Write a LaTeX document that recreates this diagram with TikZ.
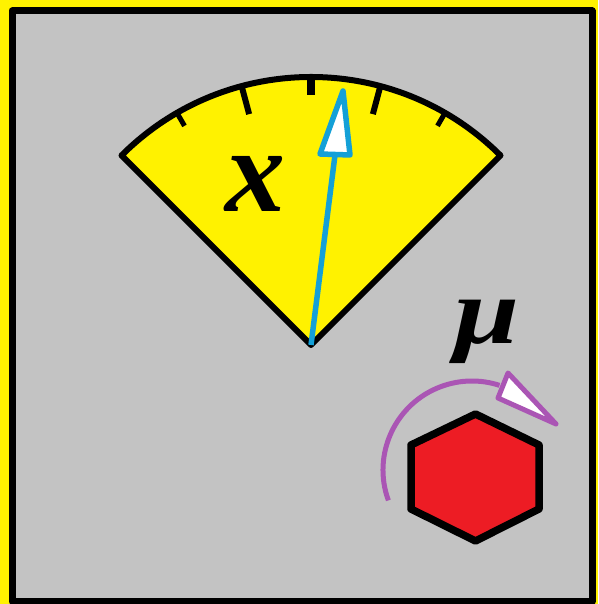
\documentclass[tikz,border=0pt]{standalone}
\usepackage{fontspec}
\setmainfont{Liberation Serif}
\definecolor{pyellow}{RGB}{255,242,0}
\definecolor{pgray}{RGB}{195,195,195}
\definecolor{pred}{RGB}{237,28,36}
\definecolor{pblue}{RGB}{20,160,215}
\definecolor{ppurple}{RGB}{170,85,180}
\tikzset{
  outline/.style={draw=black, line join=round},
  needle/.style={draw=pblue, line width=5.5pt, line join=round},
  spin/.style={draw=ppurple, line width=5pt, line join=round},
  bigletter/.style={inner sep=0pt, anchor=base, font=\fontsize{120}{120}\selectfont\bfseries\itshape},
  midletter/.style={inner sep=0pt, anchor=base, font=\fontsize{90}{90}\selectfont\bfseries\itshape}
}
\begin{document}
\begin{tikzpicture}[x=1pt,y=1pt]
\fill[pyellow] (0,0) rectangle (598,604);
\useasboundingbox (0,0) rectangle (598,604);
\draw[outline, line width=7pt, fill=pgray] (12,2.5) rectangle (592,593);
% sector dial
\begin{scope}[shift={(311,259)}]
  \coordinate (apex) at (0,0);
  \draw[outline, line width=6pt, fill=pyellow] (0,0) -- (45:268) arc[start angle=45, end angle=135, radius=268] -- cycle;
  \foreach \a/\l/\w in {60/15/5,75/29/6,90/18/8,105/29/6,120/15/5}
    \draw[line width=\w pt] (\a:268) -- (\a:268-\l);
\end{scope}
\node[bigletter] (xlab) at (255,392) {x};
% needle
\coordinate (nbase) at (335,449);
\draw[needle] (apex) -- (nbase);
\draw[needle, fill=white] (343,513) -- (320,450) -- (350,449) -- cycle;
% rotation arrow
\begin{scope}[shift={(472,134)}]
  \draw[spin] (200:89) arc[start angle=200, end angle=72, radius=89];
\end{scope}
\draw[spin, fill=white] (508,231) -- (498,206) -- (556,180) -- cycle;
\node[midletter] (mulab) at (487,260) {\scalebox{1.3}[1.05]{μ}};
% hexagon
\draw[outline, line width=7.5pt, fill=pred] (475.5,190) -- (539,159) -- (539,95) -- (475.5,63) -- (411,95) -- (411,159) -- cycle;
\end{tikzpicture}
\end{document}
